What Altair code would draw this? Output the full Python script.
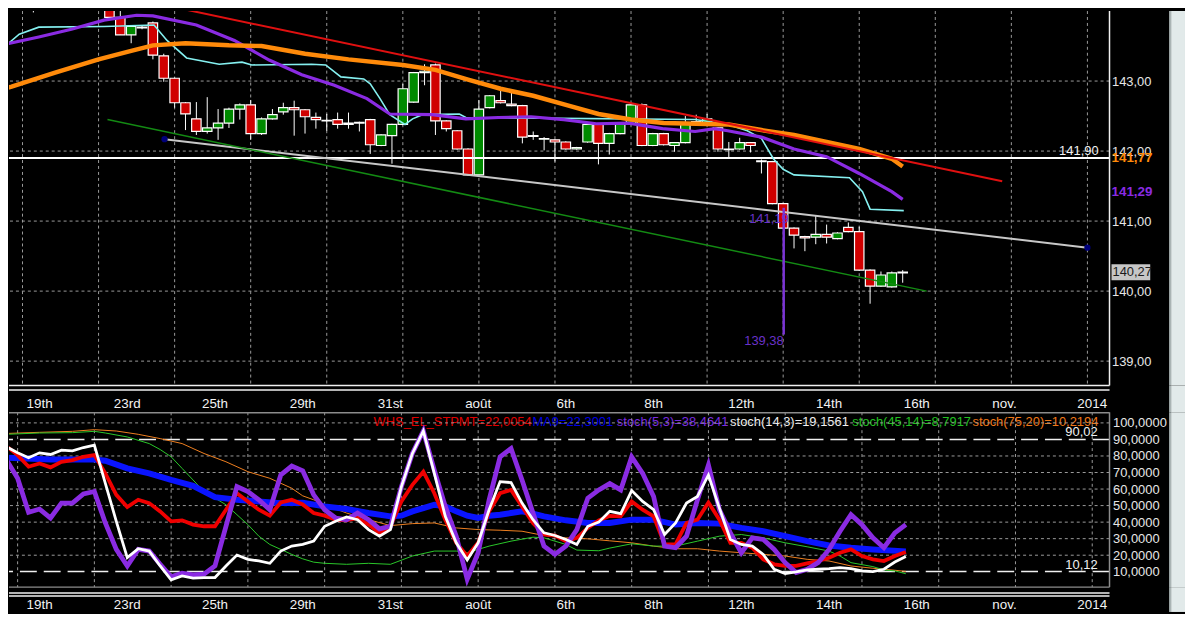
import altair as alt
import pandas as pd

FONT = "Liberation Sans"

# ---------------- DATA ----------------
bar_i = list(range(-9, 74))
open_ = [144.45, 144.30, 144.40, 144.08, 144.30, 144.45, 144.50, 144.30, 144.50,
         144.30, 143.91, 143.66, 143.76, 143.83, 143.36, 143.04, 142.69, 142.46, 142.28,
         142.33, 142.40, 142.60, 142.66, 142.25, 142.46, 142.56, 142.62, 142.59, 142.48,
         142.44, 142.45, 142.38, 142.40, 142.45, 142.08, 142.22, 142.38, 142.70, 143.12,
         143.23, 142.43, 142.29, 142.03, 141.66, 142.62, 142.72, 142.67, 142.65, 142.21,
         142.17, 142.16, 142.13, 142.03, 142.13, 142.38, 142.11, 142.25, 142.38, 142.66,
         142.08, 142.25, 142.08, 142.12, 142.38, 142.39, 142.33, 142.03, 142.03, 142.12,
         141.86, 141.85, 141.25, 140.90, 140.78, 140.77, 140.81, 140.75, 140.91, 140.85,
         140.30, 140.07, 140.06, 140.26]
high_ = [144.50, 144.60, 144.50, 144.40, 144.50, 144.70, 144.60, 144.60, 144.60,
         144.40, 144.00, 143.80, 143.79, 143.85, 143.39, 143.05, 142.70, 142.70, 142.77,
         142.60, 142.62, 142.68, 142.73, 142.48, 142.60, 142.69, 142.72, 142.60, 142.55,
         142.53, 142.55, 142.55, 142.42, 142.46, 142.24, 142.39, 142.96, 143.13, 143.24,
         143.25, 142.44, 142.30, 142.04, 142.73, 142.80, 142.89, 142.83, 142.66, 142.28,
         142.20, 142.17, 142.14, 142.06, 142.40, 142.39, 142.26, 142.39, 142.67, 142.68,
         142.26, 142.26, 142.13, 142.50, 142.52, 142.53, 142.34, 142.13, 142.19, 142.13,
         141.88, 141.86, 141.26, 140.91, 140.79, 141.08, 140.95, 140.84, 140.98, 140.92,
         140.31, 140.28, 140.28, 140.30]
low_ = [144.05, 144.20, 143.98, 144.05, 144.05, 144.30, 144.05, 144.25, 144.20,
        143.90, 143.66, 143.54, 143.74, 143.31, 142.99, 142.62, 142.30, 142.23, 142.25,
        142.16, 142.33, 142.45, 142.16, 142.23, 142.45, 142.52, 142.22, 142.25, 142.32,
        142.29, 142.32, 142.32, 142.28, 141.96, 142.07, 141.82, 142.37, 142.69, 142.94,
        142.23, 142.28, 142.02, 141.65, 141.65, 142.61, 142.68, 142.64, 142.11, 142.16,
        142.01, 141.85, 142.02, 142.02, 142.12, 141.81, 141.95, 142.24, 142.37, 142.07,
        142.07, 142.08, 141.99, 142.11, 142.37, 142.38, 141.99, 141.91, 142.02, 141.98,
        141.68, 141.24, 140.89, 140.61, 140.57, 140.67, 140.68, 140.74, 140.84, 140.29,
        139.82, 140.06, 140.05, 140.12]
close_ = [144.10, 144.50, 144.08, 144.35, 144.45, 144.60, 144.30, 144.50, 144.30,
          143.91, 143.66, 143.78, 143.77, 143.37, 143.04, 142.69, 142.53, 142.28, 142.33,
          142.40, 142.60, 142.66, 142.25, 142.46, 142.52, 142.62, 142.59, 142.49, 142.45,
          142.43, 142.38, 142.40, 142.41, 142.09, 142.23, 142.38, 142.89, 143.12, 143.14,
          142.43, 142.32, 142.03, 141.66, 142.60, 142.79, 142.69, 142.65, 142.20, 142.22,
          142.18, 142.13, 142.03, 142.05, 142.38, 142.11, 142.25, 142.38, 142.66, 142.08,
          142.25, 142.09, 142.12, 142.38, 142.42, 142.46, 142.03, 142.02, 142.12, 142.08,
          141.85, 141.25, 140.90, 140.80, 140.76, 140.81, 140.77, 140.83, 140.85, 140.30,
          140.07, 140.23, 140.26, 140.27]

# SMA 23 (purple)
sma23_i = [-9.5, -6.5, -3.5, -0.5, 2.5, 4, 8, 11.5, 14.7, 17.7, 20.7, 23.7, 25.8, 29.7,
           32.8, 35.8, 38.8, 41.8, 44.8, 47.8, 50.9, 53.9, 55.7, 56.9, 60, 63, 66, 69, 72, 73]
sma23_v = [143.53, 143.63, 143.74, 143.87, 143.94, 143.93, 143.80, 143.58, 143.30, 143.09,
           142.94, 142.75, 142.53, 142.52, 142.46, 142.48, 142.49, 142.45, 142.39, 142.40,
           142.32, 142.28, 142.32, 142.29, 142.20, 142.03, 141.92, 141.68, 141.42, 141.31]
# SMA 44 (orange)
sma44_i = [-9.5, -9, -5, -1, 2, 4, 7, 11, 14, 18, 22, 27, 30, 33, 36, 39, 42, 45, 48, 51,
           54, 57, 60, 63, 66, 69, 72, 73]
sma44_v = [142.90, 142.92, 143.12, 143.31, 143.43, 143.51, 143.54, 143.51, 143.50, 143.39,
           143.31, 143.23, 143.16, 143.02, 142.89, 142.79, 142.66, 142.53, 142.45, 142.40,
           142.39, 142.38, 142.30, 142.23, 142.13, 142.03, 141.89, 141.78]
# Kijun-sen (cyan)
kijun_i = [-9.5, -8.3, -6.5, -0.5, 4.1, 5.3, 7.1, 10.1, 12.2, 13.1, 18.6, 19.9, 21.3, 23.4,
           24.0, 24.9, 25.8, 27.2, 27.9, 28.8, 32.2, 32.8, 53.9, 56.9, 58.7, 60.0, 61.1,
           62.0, 63.0, 68.1, 69.3, 70.0, 73.1]
kijun_v = [143.51, 143.67, 143.77, 143.78, 143.80, 143.58, 143.33, 143.24, 143.27, 143.23,
           143.24, 143.23, 143.06, 143.03, 142.96, 142.75, 142.52, 142.38, 142.46, 142.52,
           142.53, 142.48, 142.45, 142.38, 142.29, 142.18, 141.89, 141.74, 141.66, 141.62,
           141.42, 141.17, 141.15]

trend_red_i = [4.26, 82.16]
trend_red_p = [144.11, 141.57]
trend_gray_i = [5.07, 90.0]
trend_gray_p = [142.17, 140.62]
trend_green_i = [-0.18, 75.2]
trend_green_p = [142.45, 140.00]
level_p = [141.90]
level_lab = ["141,90"]
swing_i = [62.05]
swing_hi = [141.19]
swing_lo = [139.38]
swing_lab = ["141,19", "139,38"]
last_vals = [141.77, 141.29, 140.27]
last_labs = ["141,77", "141,29", "140,27"]

price_ticks = [139, 140, 141, 142, 143]
grid_i = [-8, -1, 6, 13, 20, 27, 34, 41, 48, 55, 62, 69, 76, 83, 90]
date_i = [-6, 2, 10, 18, 26, 34, 42, 50, 58, 66, 74, 82, 90]
date_lab = ["19th", "23rd", "25th", "29th", "31st", "août", "6th", "8th", "12th",
            "14th", "16th", "nov.", "2014"]

# oscillator
osc_i = list(range(-9, 74))
stoch5 = [77.5, 66.5, 45.9, 47.9, 42.5, 51.5, 51.5, 57.1, 58.5,
          39.5, 23.5, 13.5, 23.5, 22.5, 14.5, 6.9, 9.1, 8.1, 8.5,
          13.5, 37.5, 61.5, 58.5, 53.5, 47.5, 68.5, 73.9, 71.0, 56.5,
          47.5, 42.5, 41.5, 45.5, 41.5, 35.9, 37.5, 61.5, 81.5, 95.1,
          71.5, 49.5, 31.5, 5.5, 21.5, 53.5, 79.5, 84.5, 65.5, 45.5,
          25.5, 20.5, 25.5, 35.5, 54.5, 59.5, 63.3, 59.5, 79.5, 69.5,
          55.5, 25.5, 24.5, 31.5, 53.5, 74.5, 47.5, 33.5, 21.5, 30.5,
          29.5, 23.5, 15.5, 9.5, 11.5, 15.5, 23.5, 34.5, 44.5, 38.5,
          30.5, 24.5, 33.5, 38.5]
stoch14 = [85.5, 81.9, 78.9, 81.9, 80.9, 83.5, 83.1, 85.1, 86.5,
           63.5, 40.5, 18.5, 23.9, 22.5, 13.5, 5.1, 7.5, 6.1, 6.5,
           6.5, 13.5, 20.1, 17.5, 16.5, 15.1, 22.5, 25.5, 26.5, 28.5,
           37.5, 40.5, 43.1, 41.5, 35.5, 31.5, 35.5, 61.5, 81.5, 95.1,
           69.5, 43.5, 27.5, 17.1, 27.5, 47.5, 64.5, 63.9, 51.5, 41.5,
           33.5, 31.9, 29.5, 26.5, 37.5, 40.0, 46.5, 45.1, 59.1, 52.5,
           47.5, 32.5, 39.5, 51.5, 55.5, 68.5, 48.5, 29.5, 26.5, 25.5,
           20.5, 11.5, 8.9, 9.9, 11.1, 11.5, 11.9, 12.5, 11.9, 10.5,
           10.1, 11.5, 15.9, 19.2]
stpmt = [85.9, 80.5, 73.5, 75.5, 73.1, 76.5, 77.5, 79.5, 80.5,
         69.5, 56.5, 49.1, 53.5, 51.5, 46.5, 40.5, 41.1, 38.5, 37.5,
         37.5, 47.5, 57.5, 52.5, 47.5, 43.9, 51.9, 53.5, 50.7, 45.5,
         43.9, 41.5, 41.1, 42.5, 38.5, 33.5, 37.5, 52.5, 62.5, 70.5,
         57.5, 41.5, 27.5, 19.5, 27.5, 46.5, 57.5, 59.5, 49.5, 39.5,
         32.5, 31.9, 28.5, 30.5, 36.5, 41.0, 43.8, 43.5, 52.5, 47.5,
         43.5, 26.5, 26.5, 39.5, 41.5, 51.9, 41.5, 27.5, 27.5, 24.5,
         17.5, 14.5, 13.5, 13.5, 15.1, 16.5, 18.5, 21.5, 23.5, 19.5,
         17.5, 16.5, 19.5, 22.0]
ma9_i = [-9.5, -9, -5, -1, 0, 2, 4, 6, 8, 10, 12, 14, 16, 18, 20, 22, 24, 26, 27, 28, 29,
         30, 31, 32, 33, 34, 35, 36, 37, 38, 39, 40, 42, 44, 46, 48, 50, 52, 54, 56, 58,
         60, 62, 64, 66, 68, 70, 73]
ma9_v = [78.9, 78.9, 77.9, 77.9, 77.1, 72.5, 69.5, 65.5, 61.9, 55.1, 53.5, 52.5, 51.5,
         51.7, 49.5, 47.9, 45.5, 43.5, 43.9, 46.5, 48.5, 50.5, 49.5, 46.5, 43.9, 42.5,
         43.9, 44.5, 45.5, 46.5, 45.1, 43.5, 41.1, 39.5, 39.5, 41.5, 41.5, 38.5, 39.5,
         39.1, 36.5, 34.5, 31.5, 28.5, 25.9, 24.5, 23.5, 22.3]
st45_i = [-9.5, -9, -6, -3, -1, 0, 2, 4, 5, 6, 7, 8, 9, 10, 11, 12, 13, 14, 15, 16, 17,
          18, 19, 20, 22, 24, 26, 28, 30, 32, 33, 35, 37, 39, 40, 42, 43, 45, 46, 48, 50,
          52, 54, 56, 58, 60, 62, 64, 66, 67, 68, 70, 71, 72, 73]
st45_v = [93.1, 93.1, 93.9, 94.1, 94.9, 93.9, 91.5, 87.5, 83.9, 79.5, 72.5, 65.5, 58.5,
          54.5, 50.5, 44.5, 38.5, 31.5, 26.5, 23.5, 20.5, 17.8, 15.8, 15.1, 14.5, 15.1,
          14.5, 19.5, 22.5, 22.5, 21.5, 25.5, 28.5, 30.9, 30.5, 26.5, 23.1, 22.7, 24.3,
          26.9, 25.5, 25.5, 28.5, 31.5, 32.5, 30.5, 27.5, 25.1, 22.5, 19.5, 15.5, 13.1,
          11.1, 10.5, 8.8]
st75_i = [-9.5, -6, -3, -1, 1, 3, 5, 7, 9, 11, 13, 15, 17, 18, 19, 20, 22, 24, 26, 28,
          30, 32, 34, 36, 38, 40, 42, 44, 46, 48, 50, 52, 54, 56, 58, 60, 62, 64, 66, 68,
          70, 72, 73]
st75_v = [93.5, 94.3, 94.9, 95.9, 95.1, 93.1, 90.5, 87.5, 81.5, 76.5, 70.5, 66.5, 60.5,
          55.9, 53.5, 50.5, 45.5, 41.5, 37.9, 39.1, 39.5, 36.5, 35.5, 35.1, 34.5, 31.9,
          30.5, 29.9, 28.7, 27.5, 25.5, 23.9, 23.9, 22.5, 21.5, 20.5, 19.5, 17.5, 16.5,
          13.5, 12.1, 10.9, 10.2]
osc_ticks = [10, 20, 30, 40, 50, 60, 70, 80, 90, 100]
osc_grid = [20, 30, 40, 50, 60, 70, 80, 100]
osc_bands = [90.02, 10.12]
osc_band_lab = ["90,02", "10,12"]
osc_hdr = ["WHS_EL_STPMT=22,0054", "MA9=22,3001", "stoch(5,3)=38,4641",
           "stoch(14,3)=19,1561", "stoch(45,14)=8,7917", "stoch(75,20)=10,2194"]

# ---------------- LAYOUT / STYLE ----------------
W = 1108
H_PRICE, H_S1, H_OSC, H_S2 = 377, 27, 176, 25
xs = alt.Scale(domain=[-8.786, 91.576], nice=False, zero=False)
ps = alt.Scale(domain=[138.652, 144.0], nice=False, zero=False)
os_ = alt.Scale(domain=[0.7, 106.4], nice=False, zero=False)

common_axis = dict(orient="right", ticks=False, domain=False, grid=False, title=None,
                   labelColor="#e6e6e6", labelFont=FONT, labelFontSize=13,
                   labelAlign="left", labelBaseline="middle", labelOverlap=False,
                   labelFlush=False)
p_axis = alt.Axis(values=price_ticks, labelPadding=2,
                  labelExpr="replace(format(datum.value, '.2f'), '.', ',')", **common_axis)
o_axis = alt.Axis(values=osc_ticks, labelPadding=3,
                  labelExpr="replace(format(datum.value, '.4f'), '.', ',')", **common_axis)


def X(f):
    return alt.X(f, type="quantitative", scale=xs, axis=None)


def PY(f):
    return alt.Y(f, type="quantitative", scale=ps, axis=p_axis)


def OY(f):
    return alt.Y(f, type="quantitative", scale=os_, axis=o_axis)


one = pd.DataFrame({"k": [0]})


def side_strip(h):
    a = alt.Chart(one).mark_rect(color="#aab4b4").encode(
        x=alt.value(1168), x2=alt.value(1170), y=alt.value(0), y2=alt.value(h))
    b = alt.Chart(one).mark_rect(color="#e2eaea").encode(
        x=alt.value(1170), x2=alt.value(1184), y=alt.value(0), y2=alt.value(h))
    return [a, b]


GRID = dict(color="#9a9a9a", strokeWidth=1, strokeDash=[3, 3])

# ---------- price panel ----------
cdf = pd.DataFrame({"i": bar_i, "o": open_, "h": high_, "l": low_, "c": close_})
cdf["dir"] = ["up" if c >= o else "down" for o, c in zip(open_, close_)]

gi = pd.DataFrame({"i": grid_i})
pv = pd.DataFrame({"p": price_ticks})

price_layers = [
    alt.Chart(gi).mark_rule(**GRID).encode(x=X("i")),
    alt.Chart(pv).mark_rule(**GRID).encode(y=PY("p")),
    alt.Chart(cdf).mark_rule(color="white", strokeWidth=1, clip=True).encode(
        x=X("i"), y=PY("l"), y2="h"),
    alt.Chart(cdf).mark_bar(size=9.5, stroke="white", strokeWidth=1.2, clip=True).encode(
        x=X("i"), y=PY("o"), y2="c",
        color=alt.Color("dir:N", scale=alt.Scale(domain=["up", "down"],
                                                 range=["#008a00", "#d00000"]), legend=None)),
    alt.Chart(pd.DataFrame({"p": level_p})).mark_rule(color="white", strokeWidth=2).encode(
        y=PY("p")),
    alt.Chart(pd.DataFrame({"i": trend_gray_i, "p": trend_gray_p})).mark_line(
        color="#c8c8c8", strokeWidth=2, clip=True).encode(x=X("i"), y=PY("p")),
    alt.Chart(pd.DataFrame({"i": trend_green_i, "p": trend_green_p})).mark_line(
        color="#138a13", strokeWidth=1.5, clip=True).encode(x=X("i"), y=PY("p")),
    alt.Chart(pd.DataFrame({"i": kijun_i, "p": kijun_v})).mark_line(
        color="#85f0f0", strokeWidth=1.6, clip=True).encode(x=X("i"), y=PY("p")),
    alt.Chart(pd.DataFrame({"i": sma23_i, "p": sma23_v})).mark_line(
        color="#8a2be2", strokeWidth=3.2, clip=True).encode(x=X("i"), y=PY("p")),
    alt.Chart(pd.DataFrame({"i": sma44_i, "p": sma44_v})).mark_line(
        color="#ff8a0a", strokeWidth=4.5, clip=True).encode(x=X("i"), y=PY("p")),
    alt.Chart(pd.DataFrame({"i": trend_red_i, "p": trend_red_p})).mark_line(
        color="#e01010", strokeWidth=2, clip=True).encode(x=X("i"), y=PY("p")),
    alt.Chart(pd.DataFrame({"i": trend_gray_i, "p": trend_gray_p})).mark_point(
        filled=True, size=40, color="#00007a", opacity=1).encode(x=X("i"), y=PY("p")),
    alt.Chart(pd.DataFrame({"i": swing_i, "hi": swing_hi, "lo": swing_lo})).mark_rule(
        color="#7b35d6", strokeWidth=2.5).encode(x=X("i"), y=PY("hi"), y2="lo"),
    alt.Chart(pd.DataFrame({"i": swing_i, "p": swing_hi, "t": swing_lab[:1]})).mark_text(
        align="right", baseline="middle", dx=5, dy=11, color="#6a32c8", fontSize=13,
        font=FONT).encode(x=X("i"), y=PY("p"), text="t"),
    alt.Chart(pd.DataFrame({"i": swing_i, "p": swing_lo, "t": swing_lab[1:]})).mark_text(
        align="right", baseline="middle", dx=0, dy=7, color="#6a32c8", fontSize=13,
        font=FONT).encode(x=X("i"), y=PY("p"), text="t"),
    alt.Chart(pd.DataFrame({"p": level_p, "t": level_lab})).mark_text(
        align="right", baseline="alphabetic", dy=-3, color="#f0f0f0", fontSize=13,
        font=FONT).encode(x=alt.value(1097), y=PY("p"), text="t"),
    alt.Chart(pd.DataFrame({"p": last_vals[:1], "t": last_labs[:1]})).mark_text(
        align="left", baseline="middle", dy=-9, color="#ff8a0a", fontSize=13.5,
        fontWeight="bold", font=FONT).encode(x=alt.value(1110), y=PY("p"), text="t"),
    alt.Chart(pd.DataFrame({"p": last_vals[1:2], "t": last_labs[1:2]})).mark_text(
        align="left", baseline="middle", dy=-9, color="#8a2be2", fontSize=13.5,
        fontWeight="bold", font=FONT).encode(x=alt.value(1110), y=PY("p"), text="t"),
    alt.Chart(pd.DataFrame({"p": last_vals[2:]})).transform_calculate(
        top="datum.p + 0.115", bot="datum.p - 0.115").mark_rect(color="#c6c6c6").encode(
        x=alt.value(1110), x2=alt.value(1149), y=PY("top:Q"), y2="bot:Q"),
    alt.Chart(pd.DataFrame({"p": last_vals[2:], "t": last_labs[2:]})).mark_text(
        align="left", baseline="middle", color="#1a1a1a", fontSize=13,
        font=FONT).encode(x=alt.value(1111), y=PY("p"), text="t"),
    alt.Chart(one).mark_rule(color="#f0f0f0", strokeWidth=1.5).encode(
        x=alt.value(W), y=alt.value(0), y2=alt.value(H_PRICE)),
    alt.Chart(one).mark_rule(color="#f0f0f0", strokeWidth=1.5).encode(
        x=alt.value(0), x2=alt.value(W), y=alt.value(H_PRICE)),
] + side_strip(H_PRICE)

price = alt.layer(*price_layers).properties(width=W, height=H_PRICE)

# ---------- date strips ----------
ddf = pd.DataFrame({"i": date_i, "t": date_lab})


def date_strip(h, line_ys, label_y):
    layers = []
    for yy in line_ys:
        layers.append(alt.Chart(one).mark_rule(color="#f0f0f0", strokeWidth=1.5).encode(
            x=alt.value(0), x2=alt.value(W), y=alt.value(yy)))
    layers.append(alt.Chart(ddf).mark_text(
        color="#f2f2f2", fontSize=13.5, font=FONT, baseline="middle").encode(
        x=X("i"), y=alt.value(label_y), text="t"))
    layers += side_strip(h)
    return alt.layer(*layers).properties(width=W, height=h)


strip1 = date_strip(H_S1, [4.5], 19)
strip2 = date_strip(H_S2, [6, 9], 17.7)

# ---------- oscillator panel ----------
hdr_colors = ["#e00000", "#0000e6", "#7b2be0", "#f0f0f0", "#22c022", "#f07818"]
hdr_x = [367, 527, 612, 726, 849, 970]
osc_layers = []
for t, col, xx in zip(osc_hdr, hdr_colors, hdr_x):
    osc_layers.append(alt.Chart(pd.DataFrame({"t": [t]})).mark_text(
        align="left", baseline="middle", color=col, fontSize=13, font=FONT).encode(
        x=alt.value(xx), y=alt.value(9.5), text="t"))

sdf = pd.DataFrame({"i": osc_i, "s5": stoch5, "s14": stoch14, "wh": stpmt})
osc_layers += [
    alt.Chart(gi).mark_rule(**GRID).encode(x=X("i")),
    alt.Chart(pd.DataFrame({"v": osc_grid})).mark_rule(**GRID).encode(y=OY("v")),
    alt.Chart(pd.DataFrame({"v": osc_bands})).mark_rule(
        color="#f0f0f0", strokeWidth=1.5, strokeDash=[17, 7]).encode(y=OY("v")),
    alt.Chart(pd.DataFrame({"v": osc_bands, "t": osc_band_lab})).mark_text(
        align="right", baseline="alphabetic", dy=-3, color="#f0f0f0", fontSize=13,
        font=FONT).encode(x=alt.value(1096), y=OY("v"), text="t"),
    alt.Chart(pd.DataFrame({"i": st75_i, "v": st75_v})).mark_line(
        color="#f08020", strokeWidth=1, clip=True).encode(x=X("i"), y=OY("v")),
    alt.Chart(pd.DataFrame({"i": st45_i, "v": st45_v})).mark_line(
        color="#2ac82a", strokeWidth=1, clip=True).encode(x=X("i"), y=OY("v")),
    alt.Chart(pd.DataFrame({"i": ma9_i, "v": ma9_v})).mark_line(
        color="#0a14ff", strokeWidth=6, clip=True).encode(x=X("i"), y=OY("v")),
    alt.Chart(sdf).mark_line(color="#f00000", strokeWidth=3.8, clip=True).encode(
        x=X("i"), y=OY("wh")),
    alt.Chart(sdf).mark_line(color="#8a2be2", strokeWidth=4.8, clip=True).encode(
        x=X("i"), y=OY("s5")),
    alt.Chart(sdf).mark_line(color="#ffffff", strokeWidth=2.8, clip=True).encode(
        x=X("i"), y=OY("s14")),
    alt.Chart(one).mark_rule(color="#8c8c8c", strokeWidth=1.5).encode(
        x=alt.value(0), x2=alt.value(W), y=alt.value(0.5)),
    alt.Chart(one).mark_rule(color="#8c8c8c", strokeWidth=1.5).encode(
        x=alt.value(0), x2=alt.value(W), y=alt.value(H_OSC)),
    alt.Chart(one).mark_rule(color="#8c8c8c", strokeWidth=1.5).encode(
        x=alt.value(W), y=alt.value(0), y2=alt.value(H_OSC)),
] + side_strip(H_OSC)

osc = alt.layer(*osc_layers).properties(width=W, height=H_OSC)

chart = alt.vconcat(price, strip1, osc, strip2, spacing=0, bounds="flush").properties(
    padding=0
).configure(background="#000000").configure_view(strokeWidth=0)

chart.save("out.html", embed_options={"renderer": "svg", "actions": False})
